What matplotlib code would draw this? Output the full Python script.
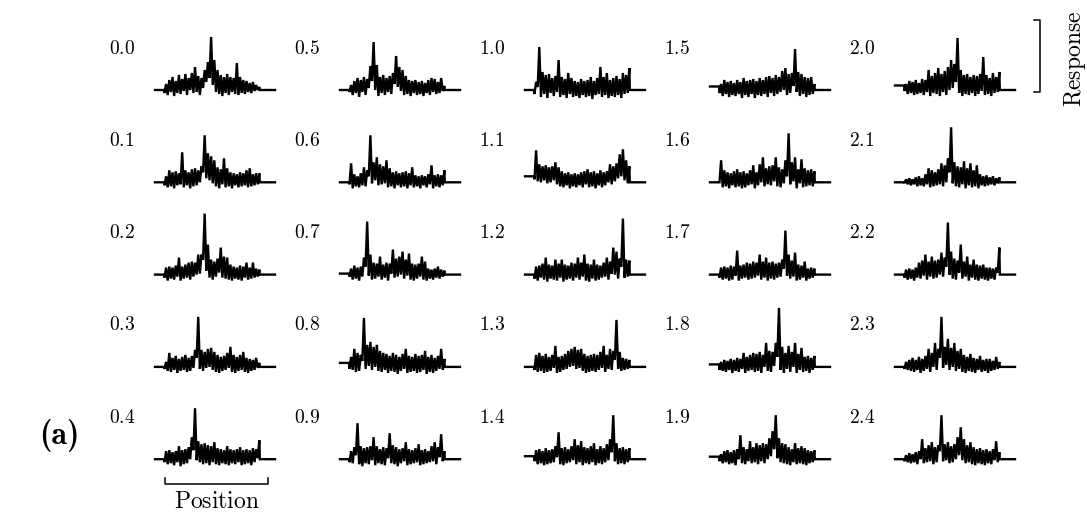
import matplotlib
matplotlib.use("Agg")
import matplotlib.pyplot as plt
from matplotlib.lines import Line2D

plt.rcParams['mathtext.fontset'] = 'cm'

# ---------------- data (units: response, 1 unit ~ 10 px of the original) ----------------
labels = ["0.0", "0.1", "0.2", "0.3", "0.4", "0.5", "0.6", "0.7", "0.8", "0.9",
          "1.0", "1.1", "1.2", "1.3", "1.4", "1.5", "1.6", "1.7", "1.8", "1.9",
          "2.0", "2.1", "2.2", "2.3", "2.4"]

# level of the flat part before / after each trace
left_level = [0.0, 0.0, 0.0, 0.0, 0.0, 0.0, 0.0, 0.1, 0.4, 0.0,
              0.0, 0.6, 0.0, 0.0, 0.3, 0.35, 0.0, 0.0, 0.25, 0.25,
              0.45, 0.0, 0.0, 0.0, 0.0]
right_level = [0.0] * 25

# upper excursions (hi) and dips (lo) of each noisy trace, left to right
hi_00 = [0.6,1.0,1.3,0.9,1.5,1.1,1.6,1.2,1.7,2.3,1.4,1.2,2.0,2.8,5.3,3.0,2.0,1.5,1.3,1.6,1.3,1.2,2.7,1.3,1.0,0.9,0.7,0.8,0.5,0.3]
lo_00 = [-0.3,-0.5,-0.2,-0.6,-0.3,-0.4,-0.1,-0.5,0.0,-0.3,-0.2,-0.5,0.2,0.8,1.2,0.5,-0.2,-0.4,-0.6,-0.3,-0.5,-0.2,-0.4,-0.5,-0.3,-0.4,-0.2,-0.3,-0.1,0.0]
hi_01 = [0.6,1.2,1.0,1.1,0.9,3.0,1.2,1.0,1.3,1.4,1.2,1.6,4.7,2.9,2.6,2.2,1.5,1.3,2.4,1.4,1.0,0.9,0.8,1.0,0.9,1.2,1.4,0.8,0.9,0.9]
lo_01 = [-0.3,-0.5,-0.4,-0.6,-0.3,-0.2,-0.5,-0.3,-0.6,-0.4,-0.3,0.0,1.0,0.4,0.2,-0.1,-0.4,-0.6,-0.2,-0.5,-0.4,-0.6,-0.3,-0.5,-0.4,-0.3,-0.5,-0.4,-0.3,-0.2]
hi_02 = [0.7,0.8,0.7,0.9,1.7,0.8,1.0,1.2,1.3,1.2,2.0,2.0,6.1,3.0,1.5,1.3,1.6,2.7,1.8,1.7,1.0,0.8,0.7,0.9,0.8,1.2,0.7,1.2,0.6,0.5]
lo_02 = [-0.3,-0.6,-0.4,-0.5,-0.2,-0.6,-0.4,-0.3,-0.5,-0.2,0.0,0.1,1.5,0.4,-0.3,-0.5,-0.2,0.2,-0.3,-0.4,-0.5,-0.6,-0.4,-0.5,-0.6,-0.3,-0.5,-0.4,-0.3,-0.2]
hi_03 = [0.5,1.4,0.9,1.1,0.8,1.0,1.2,0.9,1.1,1.7,5.0,1.7,1.5,1.8,1.9,1.5,1.2,1.0,1.1,1.4,2.0,1.2,1.0,1.2,1.5,0.9,0.8,0.7,0.9,0.4]
lo_03 = [-0.2,-0.4,-0.5,-0.3,-0.6,-0.4,-0.3,-0.5,-0.4,-0.1,0.9,-0.2,-0.4,-0.1,0.0,-0.3,-0.5,-0.6,-0.4,-0.3,-0.1,-0.5,-0.6,-0.4,-0.3,-0.5,-0.6,-0.4,-0.3,-0.1]
hi_04 = [0.8,0.9,0.7,0.8,1.3,0.9,1.0,1.2,2.2,5.1,1.8,1.5,1.6,1.4,1.3,1.7,1.1,1.0,0.9,1.3,1.0,0.9,1.0,1.2,0.9,1.0,0.9,1.1,1.0,1.9]
lo_04 = [-0.3,-0.5,-0.4,-0.6,-0.3,-0.7,-0.5,-0.4,0.0,0.9,-0.1,-0.3,-0.5,-0.4,-0.6,-0.3,-0.5,-0.6,-0.4,-0.5,-0.6,-0.4,-0.5,-0.3,-0.6,-0.5,-0.4,-0.6,-0.3,0.1]
hi_05 = [0.5,0.9,1.2,1.0,1.3,1.1,2.4,4.8,2.5,1.3,1.5,1.2,1.4,1.7,3.4,2.3,2.0,1.4,1.0,0.9,1.0,0.8,0.9,0.7,1.0,1.2,1.1,0.8,1.2,0.4]
lo_05 = [-0.2,-0.5,-0.3,-0.7,-0.2,-0.5,0.2,0.9,0.0,-0.6,-0.3,-0.5,-0.2,-0.4,0.6,0.3,-0.1,-0.5,-0.4,-0.6,-0.3,-0.5,-0.4,-0.6,-0.3,-0.5,-0.2,-0.4,-0.3,-0.1]
hi_06 = [1.9,0.8,0.6,0.9,1.5,1.2,4.7,2.0,2.5,1.8,1.6,2.2,1.4,1.0,1.1,0.9,1.0,1.1,0.9,1.5,0.7,0.6,0.7,0.6,0.8,1.7,0.7,0.8,0.7,1.2]
lo_06 = [-0.2,-0.6,-0.4,-0.5,-0.3,-0.4,0.6,-0.1,0.2,-0.3,-0.2,-0.1,-0.5,-0.4,-0.6,-0.3,-0.5,-0.4,-0.6,-0.3,-0.5,-0.4,-0.6,-0.3,-0.5,-0.2,-0.6,-0.4,-0.5,-0.3]
hi_07 = [0.6,0.9,0.7,0.8,1.7,5.3,2.0,1.2,1.1,1.8,1.0,1.2,1.1,2.5,1.6,1.8,2.3,1.5,2.1,1.1,1.0,1.1,1.8,1.3,0.6,0.5,0.6,0.8,0.5,0.4]
lo_07 = [-0.2,-0.5,-0.4,-0.6,-0.2,0.8,-0.1,-0.5,-0.4,-0.2,-0.5,-0.3,-0.6,0.1,-0.3,-0.2,0.0,-0.4,-0.1,-0.5,-0.6,-0.4,-0.2,-0.5,-0.6,-0.4,-0.5,-0.3,-0.4,-0.2]
hi_08 = [1.0,1.8,1.4,1.2,4.9,2.2,2.5,2.0,2.2,1.6,1.4,1.3,1.1,1.4,1.2,1.0,1.3,1.8,1.1,1.0,1.3,1.1,1.2,1.6,1.0,1.2,0.9,1.1,1.8,0.8]
lo_08 = [-0.2,-0.3,-0.5,-0.4,0.6,-0.2,0.1,-0.3,0.0,-0.4,-0.5,-0.3,-0.6,-0.4,-0.5,-0.7,-0.4,-0.2,-0.6,-0.5,-0.4,-0.6,-0.5,-0.3,-0.7,-0.5,-0.6,-0.4,-0.2,-0.3]
hi_09 = [0.8,1.2,3.6,1.3,1.1,1.2,1.3,2.2,1.3,1.0,1.2,1.1,2.6,1.4,1.2,1.0,1.1,1.7,1.0,0.9,1.1,1.5,0.9,1.0,0.8,1.3,1.7,1.2,2.5,0.8]
lo_09 = [-0.3,-0.4,0.4,-0.5,-0.7,-0.4,-0.5,-0.1,-0.6,-0.4,-0.5,-0.6,0.1,-0.4,-0.5,-0.7,-0.4,-0.2,-0.6,-0.5,-0.4,-0.3,-0.6,-0.5,-0.4,-0.3,-0.2,-0.5,0.2,-0.2]
hi_10 = [0.8,4.3,1.8,1.5,1.6,1.2,1.4,3.0,1.3,1.1,1.7,1.2,0.9,0.8,1.1,0.9,1.0,1.3,0.9,1.2,2.3,1.3,1.7,1.0,1.2,1.4,1.1,1.7,1.5,2.2]
lo_10 = [-0.4,0.3,-0.7,-0.4,-0.8,-0.3,-0.6,-0.2,-0.7,-0.5,-0.8,-0.4,-0.7,-0.6,-0.8,-0.5,-0.7,-0.6,-0.9,-0.5,-0.4,-0.7,-0.5,-0.8,-0.6,-0.7,-0.5,-0.8,-0.4,-0.3]
hi_11 = [3.2,1.8,1.6,1.7,1.5,1.6,2.0,1.5,1.1,0.9,1.0,0.8,0.9,0.8,1.0,1.1,1.3,1.0,1.1,0.9,1.2,1.0,1.1,1.8,1.6,1.9,2.8,3.3,2.2,1.6]
lo_11 = [0.3,0.1,0.0,0.2,-0.1,0.0,0.2,-0.2,-0.4,-0.5,-0.3,-0.6,-0.4,-0.5,-0.3,-0.5,-0.2,-0.5,-0.4,-0.6,-0.3,-0.5,-0.3,0.0,-0.2,0.1,0.4,0.6,0.2,-0.1]
hi_12 = [0.8,0.9,1.1,1.7,1.0,0.9,1.5,1.1,1.5,1.0,0.9,1.2,1.1,1.7,1.2,2.0,1.1,1.0,1.5,1.0,0.9,1.2,1.7,1.3,2.7,2.3,1.6,5.6,1.5,1.4]
lo_12 = [-0.4,-0.6,-0.3,-0.5,-0.7,-0.4,-0.5,-0.6,-0.3,-0.7,-0.5,-0.4,-0.6,-0.3,-0.5,-0.2,-0.6,-0.7,-0.4,-0.6,-0.5,-0.3,-0.2,-0.5,0.1,0.0,-0.4,0.8,-0.3,-0.2]
hi_13 = [1.2,1.4,1.1,1.3,1.0,1.2,2.1,1.0,1.1,1.3,1.6,1.8,2.0,1.7,1.8,1.3,1.1,1.2,1.3,1.2,1.5,2.1,1.2,1.8,1.6,4.7,1.5,0.9,0.8,0.7]
lo_13 = [-0.3,-0.5,-0.4,-0.6,-0.5,-0.4,-0.1,-0.6,-0.5,-0.3,-0.2,0.0,0.1,-0.2,-0.1,-0.4,-0.6,-0.5,-0.4,-0.5,-0.3,-0.1,-0.5,-0.2,-0.3,0.7,-0.2,-0.4,-0.3,-0.2]
hi_14 = [0.9,1.0,0.8,1.1,0.9,1.0,1.3,2.7,1.1,1.2,1.0,1.3,2.0,1.4,1.8,1.2,1.1,1.3,1.6,1.0,1.3,1.1,1.5,2.0,4.4,1.6,1.1,1.2,1.0,1.1]
lo_14 = [-0.2,-0.5,-0.4,-0.6,-0.5,-0.4,-0.3,0.2,-0.5,-0.6,-0.4,-0.3,-0.1,-0.5,-0.3,-0.6,-0.4,-0.5,-0.3,-0.6,-0.4,-0.5,-0.3,-0.1,0.7,-0.2,-0.5,-0.4,-0.5,-0.3]
hi_15 = [0.6,1.0,0.8,0.9,0.7,1.0,0.8,1.2,0.9,1.0,1.1,0.9,1.2,1.0,1.3,1.4,1.2,1.5,1.3,1.9,2.2,1.6,1.7,4.1,1.8,1.6,1.3,1.2,1.3,0.6]
lo_15 = [-0.3,-0.6,-0.4,-0.7,-0.5,-0.6,-0.4,-0.8,-0.5,-0.7,-0.4,-0.8,-0.5,-0.6,-0.4,-0.7,-0.3,-0.6,-0.4,-0.2,0.0,-0.5,-0.3,0.4,-0.2,-0.6,-0.4,-0.7,-0.5,-0.4]
hi_16 = [2.2,1.2,1.0,0.9,1.1,1.3,1.0,1.1,0.9,1.2,1.7,1.0,1.8,2.5,1.4,1.6,1.7,2.5,1.5,1.3,2.2,4.9,2.0,2.5,1.3,2.3,1.4,1.2,1.3,1.1]
lo_16 = [0.0,-0.5,-0.4,-0.6,-0.3,-0.5,-0.4,-0.6,-0.5,-0.3,-0.2,-0.6,-0.3,0.0,-0.4,-0.2,-0.3,0.1,-0.4,-0.5,-0.1,0.6,-0.2,0.1,-0.6,-0.1,-0.5,-0.4,-0.3,-0.4]
hi_17 = [0.7,0.8,0.7,0.9,0.8,2.4,0.9,1.0,1.2,1.1,1.3,1.2,2.0,1.3,1.7,1.2,1.3,1.1,1.2,1.5,4.4,2.0,1.4,2.2,1.0,0.9,1.3,0.6,0.7,0.6]
lo_17 = [-0.3,-0.5,-0.4,-0.6,-0.5,-0.1,-0.6,-0.4,-0.3,-0.5,-0.4,-0.3,-0.1,-0.5,-0.3,-0.6,-0.4,-0.5,-0.3,-0.2,0.6,-0.1,-0.4,-0.2,-0.6,-0.5,-0.3,-0.6,-0.4,-0.3]
hi_18 = [0.5,0.7,0.6,0.8,0.7,0.9,0.8,1.4,1.0,1.2,1.4,1.3,1.5,1.2,2.4,1.6,1.5,2.4,5.9,2.0,1.4,2.1,1.5,2.4,1.3,1.9,1.0,1.1,0.9,1.1]
lo_18 = [-0.3,-0.4,-0.5,-0.3,-0.6,-0.4,-0.5,-0.2,-0.6,-0.4,-0.3,-0.5,-0.4,-0.6,0.0,-0.4,-0.5,0.1,1.0,-0.3,-0.6,-0.2,-0.5,0.0,-0.6,-0.3,-0.5,-0.4,-0.6,-0.3]
hi_19 = [0.5,0.8,0.9,0.7,0.9,1.0,2.4,1.2,1.0,1.8,1.2,1.6,1.4,1.6,1.5,2.1,2.8,4.4,2.1,1.6,1.5,1.2,1.0,1.6,1.1,1.3,1.1,0.9,0.8,0.9]
lo_19 = [-0.2,-0.4,-0.3,-0.5,-0.4,-0.6,0.0,-0.4,-0.5,-0.2,-0.4,-0.3,-0.5,-0.2,-0.4,0.0,0.3,1.0,0.1,-0.3,-0.4,-0.5,-0.6,-0.3,-0.5,-0.4,-0.5,-0.6,-0.4,-0.3]
hi_20 = [0.6,0.9,0.8,1.0,0.7,1.1,1.0,2.0,1.4,1.7,2.2,1.6,1.9,2.3,3.0,2.6,5.2,2.0,1.5,1.6,1.3,1.5,1.4,1.6,3.3,1.5,1.2,1.7,1.3,1.8]
lo_20 = [-0.1,-0.4,-0.3,-0.5,-0.4,-0.3,-0.5,-0.2,-0.6,-0.3,-0.4,-0.6,-0.2,-0.5,0.0,0.2,0.8,-0.3,-0.6,-0.4,-0.5,-0.3,-0.6,-0.4,-0.1,-0.5,-0.4,-0.6,-0.3,-0.2]
hi_21 = [0.3,0.4,0.3,0.5,0.6,0.4,0.8,1.4,1.2,1.0,1.3,1.9,1.7,2.4,5.5,2.0,1.6,1.5,2.1,1.4,1.9,1.2,1.7,0.8,0.6,0.7,0.5,0.6,0.4,0.5]
lo_21 = [-0.1,-0.2,-0.3,-0.2,-0.4,-0.3,-0.4,-0.2,-0.5,-0.4,-0.3,-0.2,-0.4,0.0,1.0,-0.1,-0.4,-0.5,-0.2,-0.6,-0.3,-0.5,-0.4,-0.6,-0.3,-0.4,-0.3,-0.2,-0.3,-0.1]
hi_22 = [0.5,0.6,0.5,0.7,1.2,1.4,2.0,1.3,1.8,1.4,1.5,2.2,1.7,5.2,2.3,1.6,1.4,3.0,1.3,1.8,1.0,1.5,1.0,0.9,1.0,0.7,0.7,0.6,0.7,2.7]
lo_22 = [-0.3,-0.5,-0.4,-0.6,-0.3,-0.4,-0.1,-0.5,-0.2,-0.4,-0.3,0.0,-0.2,0.8,0.0,-0.4,-0.5,0.2,-0.4,-0.2,-0.6,-0.3,-0.5,-0.6,-0.4,-0.5,-0.6,-0.4,-0.5,0.2]
hi_23 = [0.5,0.7,0.9,0.7,1.0,0.8,1.1,1.8,1.4,2.4,1.8,5.0,2.0,2.8,1.9,2.4,1.6,1.8,1.2,1.0,1.3,0.9,0.8,1.1,0.7,0.8,0.8,0.6,1.0,0.5]
lo_23 = [-0.2,-0.3,-0.4,-0.5,-0.3,-0.6,-0.4,-0.2,-0.5,0.0,-0.3,0.9,-0.1,0.2,-0.3,0.0,-0.4,-0.2,-0.5,-0.6,-0.4,-0.5,-0.6,-0.3,-0.5,-0.4,-0.6,-0.4,-0.3,-0.2]
hi_24 = [0.4,0.6,0.5,0.7,0.8,2.0,1.1,1.4,1.7,1.2,1.4,4.4,1.5,1.7,1.3,1.5,2.2,3.2,2.0,1.4,1.7,1.2,1.0,1.1,0.9,1.0,0.8,1.0,1.8,0.7]
lo_24 = [-0.2,-0.3,-0.4,-0.3,-0.5,0.0,-0.4,-0.3,-0.2,-0.5,-0.3,0.8,-0.2,-0.1,-0.4,-0.3,0.0,0.4,-0.1,-0.4,-0.3,-0.5,-0.6,-0.4,-0.5,-0.6,-0.4,-0.5,-0.1,-0.3]

his = [hi_00, hi_01, hi_02, hi_03, hi_04, hi_05, hi_06, hi_07, hi_08, hi_09,
       hi_10, hi_11, hi_12, hi_13, hi_14, hi_15, hi_16, hi_17, hi_18, hi_19,
       hi_20, hi_21, hi_22, hi_23, hi_24]
los = [lo_00, lo_01, lo_02, lo_03, lo_04, lo_05, lo_06, lo_07, lo_08, lo_09,
       lo_10, lo_11, lo_12, lo_13, lo_14, lo_15, lo_16, lo_17, lo_18, lo_19,
       lo_20, lo_21, lo_22, lo_23, lo_24]

# ---------------- layout (pixels of a 1087x518 canvas) ----------------
W, H = 1087, 518
fig = plt.figure(figsize=(W / 100, H / 100), dpi=100)

col_x0 = 155          # left end of first column's baseline
col_step = 185
row_y0 = 90           # baseline of first row (from top)
row_step = 92.3
ax_w = 120
ax_above = 65
ax_below = 12
XMIN, XMAX = -0.10, 1.165
YMIN = -ax_below / 10.0
YMAX = ax_above / 10.0

axes = {}
for p in range(25):
    c, r = divmod(p, 5)
    x0 = col_x0 + col_step * c
    yb = row_y0 + row_step * r
    ax = fig.add_axes([x0 / W, 1 - (yb + ax_below) / H, ax_w / W, (ax_above + ax_below) / H])
    ax.set_xlim(XMIN, XMAX)
    ax.set_ylim(YMIN, YMAX)
    ax.axis('off')
    axes[p] = ax

    n = 2 * len(his[p])
    vals = []
    for lo, hi in zip(los[p], his[p]):
        vals += [lo, hi]
    xs = [XMIN, -0.005] + [k / (n - 1) for k in range(n)] + [1.005, XMAX]
    ys = [left_level[p], left_level[p]] + vals + [right_level[p], right_level[p]]
    ax.plot(xs, ys, color='black', lw=1.7, solid_joinstyle='miter', clip_on=False)

    ax.text(-33 / ax_w, (ax_below + 42) / (ax_above + ax_below), r'$' + labels[p] + r'$',
            transform=ax.transAxes, ha='center', va='center', fontsize=14)

# Position bracket (under panel 0.4)
axp = axes[4]
tr = axp.transAxes
bx0, bx1 = 10 / ax_w, 113 / ax_w
by = (ax_below - 25) / (ax_above + ax_below)
tick = 6 / (ax_above + ax_below)
axp.add_line(Line2D([bx0, bx0, bx1, bx1], [by + tick, by, by, by + tick], transform=tr,
                    color='black', lw=1.1, clip_on=False))
axp.text((bx0 + bx1) / 2, (ax_below - 42) / (ax_above + ax_below), r'$\mathrm{Position}$',
         transform=tr, ha='center', va='center', fontsize=17)

# Response bracket (right of panel 2.0)
axr = axes[20]
trr = axr.transAxes
rx = (1040 - 895) / ax_w
rt = 6 / ax_w
ry0 = (ax_below - 2) / (ax_above + ax_below)
ry1 = (ax_below + 70) / (ax_above + ax_below)
axr.add_line(Line2D([rx - rt, rx, rx, rx - rt], [ry0, ry0, ry1, ry1], transform=trr,
                    color='black', lw=1.1, clip_on=False))
axr.text((1075 - 895) / ax_w, (ax_below + 31) / (ax_above + ax_below), r'$\mathrm{Response}$',
         transform=trr, ha='center', va='center', rotation=90, fontsize=17)

# panel tag
fig.text(59 / W, 1 - 435 / H, '(a)', ha='center', va='center', fontsize=23,
         family='cmb10')

fig.savefig('out.png', dpi=100)
